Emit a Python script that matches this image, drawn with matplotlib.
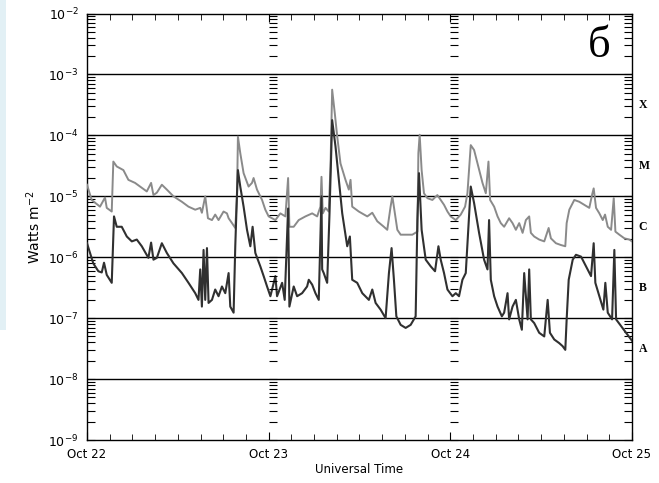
import numpy as np
import matplotlib
matplotlib.use('Agg')
import matplotlib.pyplot as plt
from matplotlib.ticker import LogLocator, MultipleLocator, NullFormatter
from matplotlib.patches import Rectangle

# ---------- data ----------
# time in hours from Oct 22 00:00 UT, flux as log10(W m^-2)
long_t = [0.00, 0.62, 1.72, 2.38, 2.61, 3.27, 3.48, 3.93, 4.81, 5.47, 6.35, 7.90, 8.47, 8.78,
          9.23, 9.89, 10.55, 11.42, 12.54, 13.41, 14.30, 14.96, 15.18, 15.62, 15.98, 16.51,
          16.94, 17.38, 18.04, 18.49, 18.71, 19.16, 19.59, 19.82, 19.94, 20.25, 20.69, 21.35,
          21.80, 22.01, 22.46, 23.13, 23.56, 24.00, 24.89, 25.55, 26.21, 26.57, 26.74, 27.31,
          27.97, 28.86, 29.75, 30.41, 30.84, 30.98, 31.15, 31.51, 31.94, 32.17, 32.39, 32.74,
          33.06, 33.49, 34.15, 34.59, 34.82, 35.04, 35.91, 37.03, 37.69, 38.35, 39.22, 39.67,
          40.11, 40.34, 40.68, 41.00, 41.44, 42.98, 43.65, 43.78, 43.95, 44.21, 44.52, 44.97,
          45.63, 46.29, 46.73, 47.17, 47.62, 48.05, 48.72, 49.38, 49.95, 50.26, 50.70, 51.14,
          51.59, 52.25, 52.69, 53.04, 53.26, 53.79, 54.24, 54.67, 55.11, 55.77, 56.22, 56.66,
          57.10, 57.55, 57.98, 58.42, 58.64, 59.08, 59.74, 60.41, 60.99, 61.29, 61.95, 62.62,
          63.19, 63.37, 63.72, 64.38, 65.04, 65.70, 66.36, 66.72, 66.94, 67.25, 67.69, 68.14,
          68.44, 68.80, 69.24, 69.59, 69.81, 70.33, 71.00, 71.66, 72.00]
long_log = [-4.81, -5.06, -5.17, -5.02, -5.19, -5.25, -4.43, -4.51, -4.57, -4.73, -4.78, -4.92,
            -4.78, -4.98, -4.94, -4.81, -4.89, -5.00, -5.09, -5.17, -5.22, -5.19, -5.27, -5.00,
            -5.36, -5.39, -5.30, -5.39, -5.25, -5.28, -5.36, -5.44, -5.52, -5.00, -4.02, -4.29,
            -4.62, -4.84, -4.78, -4.70, -4.89, -5.06, -5.22, -5.33, -5.39, -5.28, -5.33, -4.70,
            -5.50, -5.50, -5.39, -5.33, -5.28, -5.33, -5.17, -4.68, -5.28, -5.19, -5.25, -4.51,
            -3.25, -3.64, -4.02, -4.46, -4.73, -4.89, -4.73, -5.17, -5.25, -5.33, -5.27, -5.41,
            -5.50, -5.55, -5.17, -5.00, -5.28, -5.55, -5.63, -5.63, -5.58, -4.29, -3.99, -4.57,
            -4.95, -5.03, -5.06, -4.98, -5.06, -5.14, -5.25, -5.33, -5.39, -5.30, -5.17, -4.95,
            -4.16, -4.24, -4.46, -4.78, -4.95, -4.43, -5.06, -5.17, -5.33, -5.44, -5.50, -5.36,
            -5.44, -5.55, -5.44, -5.60, -5.39, -5.33, -5.60, -5.66, -5.71, -5.74, -5.52, -5.69,
            -5.77, -5.80, -5.82, -5.44, -5.22, -5.06, -5.09, -5.14, -5.19, -4.98, -4.87, -5.19,
            -5.28, -5.39, -5.30, -5.50, -5.55, -5.03, -5.58, -5.63, -5.69, -5.71, -5.74]

short_t = [0.00, 0.40, 0.83, 1.50, 1.95, 2.25, 2.61, 3.27, 3.57, 3.93, 4.59, 5.26, 5.92, 6.58,
           7.24, 8.11, 8.47, 8.78, 9.23, 9.89, 10.55, 11.42, 12.54, 13.41, 14.30, 14.73, 14.96,
           15.18, 15.40, 15.62, 15.85, 16.06, 16.51, 16.94, 17.38, 17.83, 18.27, 18.71, 18.93,
           19.37, 19.59, 19.82, 19.94, 20.25, 20.69, 21.14, 21.58, 21.88, 22.24, 22.90, 23.34,
           23.79, 24.23, 24.89, 25.11, 25.78, 26.12, 26.57, 26.74, 27.31, 27.76, 28.42, 29.08,
           29.30, 29.75, 30.18, 30.62, 30.98, 31.07, 31.28, 31.73, 32.04, 32.39, 32.83, 33.27,
           33.72, 34.38, 34.73, 35.04, 35.70, 36.37, 37.24, 37.69, 38.13, 38.79, 39.45, 39.89,
           40.24, 40.55, 40.87, 41.44, 42.10, 42.76, 43.42, 43.65, 43.86, 44.21, 44.75, 45.41,
           45.98, 46.43, 46.73, 47.17, 47.62, 48.28, 48.72, 49.15, 49.60, 50.04, 50.34, 50.70,
           51.14, 51.80, 52.46, 52.91, 53.12, 53.35, 53.79, 54.24, 54.81, 55.11, 55.56, 55.77,
           56.22, 56.66, 57.10, 57.45, 57.76, 58.21, 58.42, 58.64, 59.08, 59.74, 60.41, 60.86,
           61.16, 61.73, 62.39, 62.84, 63.19, 63.37, 63.64, 64.17, 64.60, 65.27, 65.93, 66.59,
           66.94, 67.16, 67.69, 68.22, 68.48, 68.80, 69.37, 69.67, 69.90, 70.56, 71.22, 71.88,
           72.00]
short_log = [-5.77, -5.93, -6.10, -6.23, -6.25, -6.09, -6.29, -6.42, -5.33, -5.50, -5.50, -5.66,
             -5.74, -5.71, -5.82, -6.01, -5.76, -6.04, -6.01, -5.77, -5.93, -6.10, -6.26, -6.42,
             -6.59, -6.70, -6.20, -6.81, -5.88, -6.70, -5.85, -6.75, -6.70, -6.53, -6.64, -6.48,
             -6.59, -6.26, -6.81, -6.91, -5.82, -4.95, -4.57, -4.84, -5.17, -5.55, -5.82, -5.50,
             -5.93, -6.15, -6.31, -6.48, -6.64, -6.31, -6.64, -6.42, -6.70, -5.20, -6.81, -6.48,
             -6.64, -6.59, -6.48, -6.37, -6.45, -6.59, -6.70, -5.00, -6.20, -6.26, -6.42, -5.28,
             -3.75, -4.18, -4.73, -5.28, -5.82, -5.66, -6.37, -6.42, -6.59, -6.70, -6.53, -6.75,
             -6.86, -7.00, -6.26, -5.85, -6.37, -6.97, -7.11, -7.16, -7.11, -6.97, -5.39, -4.62,
             -5.55, -6.04, -6.15, -6.23, -5.82, -6.04, -6.26, -6.53, -6.64, -6.59, -6.64, -6.37,
             -6.26, -5.60, -4.84, -5.11, -5.60, -6.04, -6.20, -5.39, -6.37, -6.64, -6.81, -6.97,
             -6.91, -6.59, -7.02, -6.81, -6.70, -7.02, -7.19, -6.26, -7.02, -6.20, -7.02, -7.08,
             -7.24, -7.30, -6.70, -7.24, -7.35, -7.41, -7.46, -7.52, -7.02, -6.37, -6.04, -5.96,
             -5.99, -6.15, -6.31, -5.77, -6.42, -6.64, -6.86, -6.42, -6.91, -7.02, -5.88, -7.02,
             -7.13, -7.24, -7.35, -7.37]

day_ticks = [0, 24, 48, 72]
day_labels = ['Oct 22', 'Oct 23', 'Oct 24', 'Oct 25']
flare_classes = ['X', 'M', 'C', 'B', 'A']
class_levels = [-3.5, -4.5, -5.5, -6.5, -7.5]
grid_levels = [1e-3, 1e-4, 1e-5, 1e-6, 1e-7, 1e-8]

# ---------- figure ----------
fig = plt.figure(figsize=(6.59, 4.83), dpi=100)
fig.patches.append(Rectangle((0, 0.317), 0.009, 0.683, transform=fig.transFigure,
                             facecolor='#e2f0f5', edgecolor='none', zorder=0))

ax = fig.add_axes([0.132, 0.089, 0.827, 0.883])
ax.set_yscale('log')
ax.set_xlim(0, 72)
ax.set_ylim(1e-9, 1e-2)

for lv in grid_levels:
    ax.axhline(lv, color='black', lw=1.0, zorder=1)

ax.plot(long_t, 10 ** np.array(long_log), color='#8a8a8a', lw=1.4, zorder=3)
ax.plot(short_t, 10 ** np.array(short_log), color='#303030', lw=1.5, zorder=3)

ax.set_xticks(day_ticks)
ax.set_xticklabels(day_labels, fontsize=8.5)
ax.xaxis.set_minor_locator(MultipleLocator(3))
ax.tick_params(axis='x', which='both', direction='in', top=True, pad=6)
ax.tick_params(axis='x', which='major', length=6)
ax.tick_params(axis='x', which='minor', length=4)

ax.yaxis.set_major_locator(LogLocator(base=10, numticks=12))
ax.yaxis.set_minor_locator(LogLocator(base=10, subs=np.arange(2, 10), numticks=12))
ax.yaxis.set_minor_formatter(NullFormatter())
ax.tick_params(axis='y', which='both', direction='in', right=True, labelsize=9, pad=6)
ax.tick_params(axis='y', which='minor', length=6, width=0.8)
ax.tick_params(axis='y', which='major', length=6)

for sp in ax.spines.values():
    sp.set_linewidth(1.0)

ax.set_xlabel('Universal Time', fontsize=8.5, labelpad=1)
ax.set_ylabel('Watts m$^{-2}$', fontsize=10, labelpad=4)

# flare class letters on the right
for cls, lv in zip(flare_classes, class_levels):
    ax.text(1.012, 10 ** lv, cls, transform=ax.get_yaxis_transform(), fontsize=8.5,
            fontweight='bold', family='Liberation Serif', va='center', ha='left')

ax.text(0.94, 0.925, 'б', transform=ax.transAxes, fontsize=32, family='Liberation Serif',
        ha='center', va='center')

# y tick columns at day boundaries
for d in day_ticks[1:3]:
    xf = 0.132 + 0.827 * d / 72
    tax = fig.add_axes([xf, 0.089, 0.0005, 0.883], frameon=False)
    tax.set_yscale('log')
    tax.set_ylim(1e-9, 1e-2)
    tax.xaxis.set_visible(False)
    tax.yaxis.set_major_locator(LogLocator(base=10, numticks=12))
    tax.yaxis.set_minor_locator(LogLocator(base=10, subs=np.arange(2, 10), numticks=12))
    tax.yaxis.set_major_formatter(NullFormatter())
    tax.yaxis.set_minor_formatter(NullFormatter())
    tax.tick_params(axis='y', which='both', direction='in', labelleft=False, length=6, width=0.8)

fig.savefig('out.png', dpi=100)
